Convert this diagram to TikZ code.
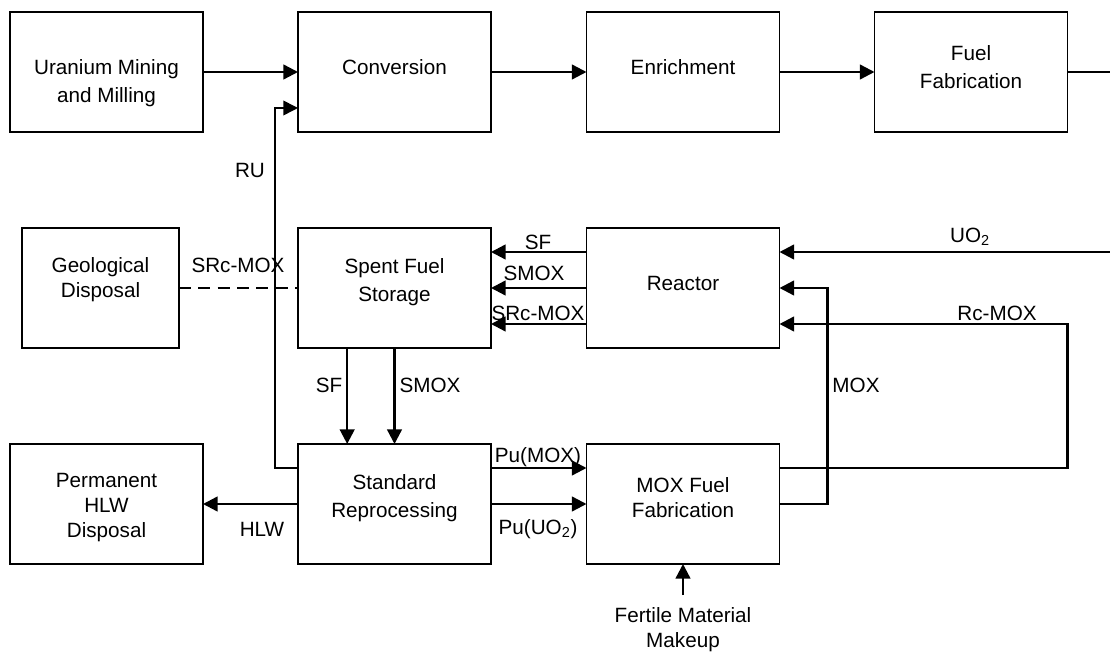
\documentclass[tikz,border=0pt]{standalone}
\usepackage{fontspec}
\setmainfont{Liberation Sans}
\usetikzlibrary{arrows.meta}
\begin{document}
\begin{tikzpicture}[x=0.75pt,y=-0.75pt,
  box/.style={draw, line width=1.3pt, minimum width=144.75pt, minimum height=90pt, outer sep=0pt, inner sep=0pt},
  narrowbox/.style={box, minimum width=117.75pt},
  txt/.style={align=center, inner sep=0pt, font=\fontsize{15.5pt}{18.75pt}\selectfont},
  txtw/.style={align=center, inner sep=0pt, font=\fontsize{15.5pt}{21.5pt}\selectfont},
  flow/.style={line width=1.8pt, -{Triangle[length=11pt,width=11pt]}},
  plainflow/.style={line width=1.8pt},
  thinflow/.style={line width=1.2pt, -{Triangle[length=11pt,width=11pt]}},
  link/.style={line width=1.3pt, dash pattern=on 9pt off 5.5pt}
]
\useasboundingbox (0,0) rectangle (1110,655);

% boxes
\node[box] (ur)   at (106.5,72) {};
\node[box] (conv) at (394.5,72) {};
\node[box] (enr)  at (683,72) {};
\node[box] (ff)   at (971,72) {};
\node[narrowbox] (geo) at (100.5,288) {};
\node[box] (sfs)  at (394.5,288) {};
\node[box] (rea)  at (683,288) {};
\node[box] (perm) at (106.5,504) {};
\node[box] (sr)   at (394.5,504) {};
\node[box] (mox)  at (683,504) {};

% box texts
\node[txtw] (urt)   at (106.5,83) {Uranium Mining\\and Milling};
\node[txt]  (convt) at (394.5,67) {Conversion};
\node[txt]  (enrt)  at (683,67) {Enrichment};
\node[txtw] (fft)   at (971,67) {Fuel\\Fabrication};
\node[txt]  (geot)  at (100.5,280) {Geological\\Disposal};
\node[txtw] (sfst)  at (394.5,282) {Spent Fuel\\Storage};
\node[txt]  (reat)  at (683,283) {Reactor};
\node[txt]  (permt) at (106.5,508) {Permanent\\HLW\\Disposal};
\node[txtw] (srt)   at (394.5,498) {Standard\\Reprocessing};
\node[txt]  (moxt)  at (683,498) {MOX Fuel\\Fabrication};
\node[txt]  (fert)  at (683,630) {Fertile Material\\Makeup};

% free ends
\coordinate (edgeA) at (1110,72);
\coordinate (edgeB) at (1110,252);
\coordinate (fertA) at (683,595);

% top row
\draw[flow] (ur.east) -- (conv.west);
\draw[flow] (conv.east) -- (enr.west);
\draw[flow] (enr.east) -- (ff.west);
\draw[plainflow] (ff.east) -- (edgeA);

% UO2 to reactor
\draw[flow] (edgeB) -- ([yshift=27pt]rea.east);

% reactor to spent fuel storage
\draw[flow] ([yshift=27pt]rea.west) -- ([yshift=27pt]sfs.east);
\draw[flow] (rea.west) -- (sfs.east);
\draw[flow] ([yshift=-27pt]rea.west) -- ([yshift=-27pt]sfs.east);

% geological disposal link
\draw[link] (geo.east) -- (sfs.west);

% spent fuel storage to reprocessing
\draw[flow] ([xshift=-35.5pt]sfs.south) -- ([xshift=-35.5pt]sr.north);
\draw[flow] (sfs.south) -- (sr.north);

% reprocessing outputs
\draw[flow] (sr.west) -- (perm.east);
\draw[flow] ([yshift=27pt]sr.east) -- ([yshift=27pt]mox.west);
\draw[flow] (sr.east) -- (mox.west);

% RU recycle
\draw[thinflow] ([yshift=27pt]sr.west) -- ++(-23,0) |- ([yshift=-27pt]conv.west);

% MOX to reactor
\draw[flow] (mox.east) -- ++(48,0) |- (rea.east);

% Rc-MOX to reactor
\coordinate (rc1) at ([yshift=27pt]mox.east);
\coordinate (rc2) at ([yshift=-27pt]rea.east);
\draw[flow] (rc1) -- (rc1 -| ff.east) |- (rc2);

% fertile makeup
\draw[flow] (fertA) -- (mox.south);

% connector labels
\node[txt] (lru)    at (250,170) {RU};
\node[txt] (lsrc1)  at (238,265) {SRc-MOX};
\node[txt] (lsf1)   at (538,242) {SF};
\node[txt] (lsmox1) at (534,273) {SMOX};
\node[txt] (lsrc2)  at (538,313) {SRc-MOX};
\node[txt] (luo2)   at (970,237) {UO\textsubscript{2}};
\node[txt] (lrc)    at (997,313) {Rc-MOX};
\node[txt] (lmox)   at (856,385) {MOX};
\node[txt] (lsf2)   at (329,385) {SF};
\node[txt] (lsmox2) at (430,385) {SMOX};
\node[txt] (lhlw)   at (262,529) {HLW};
\node[txt] (lpum)   at (538,457) {Pu(MOX)};
\node[txt] (lpuu)   at (538,529) {Pu(UO\textsubscript{2})};
\end{tikzpicture}
\end{document}
